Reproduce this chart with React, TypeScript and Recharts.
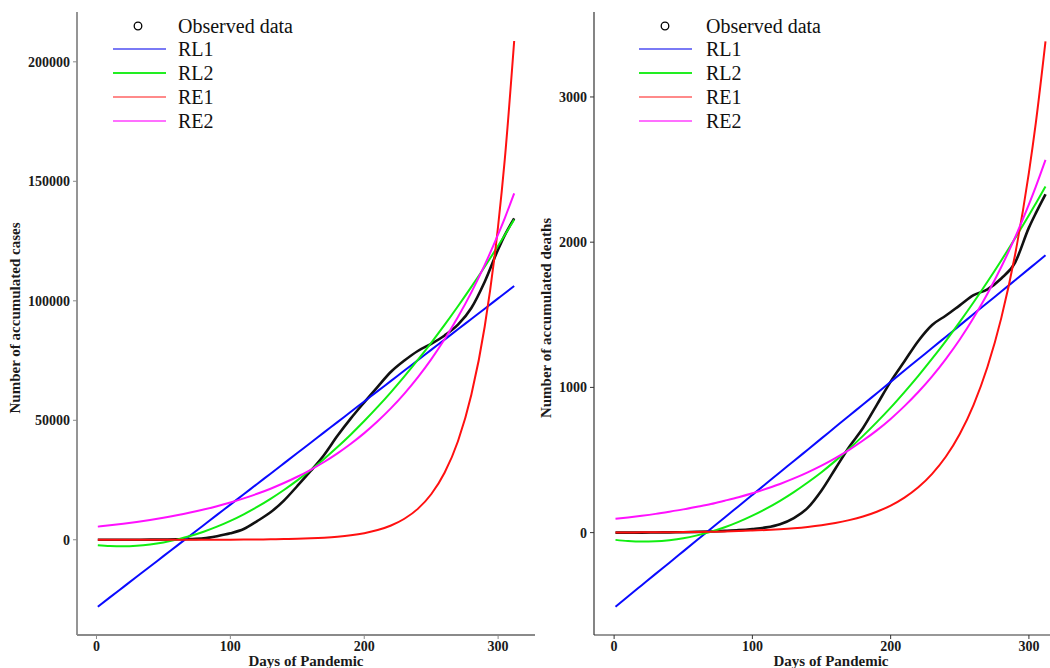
import React from 'react';
import { LineChart, Line, XAxis, YAxis } from 'recharts';

// Days of pandemic (sample points)
const days = [1, 10, 20, 30, 40, 50, 60, 70, 80, 90, 100, 110, 120, 130, 140, 150, 160, 170, 180, 190, 200, 210, 220, 230, 240, 250, 260, 270, 280, 290, 300, 305, 312];

// Left panel: accumulated cases
const casesObserved = [0, 0, 0, 0, 50, 100, 200, 300, 600, 1500, 2700, 4500, 7800, 11500, 16400, 22500, 28800, 35500, 43500, 50800, 57500, 64000, 70300, 75000, 79000, 82000, 85500, 90000, 97000, 108000, 121500, 127500, 134500];
const casesRL1 = [-28000, -24100, -19800, -15500, -11200, -6850, -2540, 1780, 6090, 10400, 14720, 19030, 23350, 27660, 31980, 36300, 40610, 44930, 49240, 53560, 57870, 62190, 66500, 70820, 75130, 79450, 83760, 88080, 92390, 96700, 101020, 103180, 106200];
const casesRL2 = [-2300, -2650, -2740, -2520, -1970, -1120, 60, 1550, 3360, 5480, 7920, 10670, 13740, 17130, 20830, 24850, 29180, 33830, 38800, 44080, 49680, 55590, 61820, 68370, 75230, 82410, 89900, 97710, 105840, 114280, 123040, 127530, 133960];
const casesRE1 = [1, 2, 3, 4, 6, 8, 12, 18, 27, 39, 58, 85, 126, 185, 272, 400, 589, 867, 1275, 1876, 2761, 4062, 5977, 8795, 12933, 19040, 28030, 41220, 60650, 89240, 131300, 159300, 208700];
const casesRE2 = [5500, 6050, 6720, 7460, 8290, 9210, 10230, 11370, 12630, 14030, 15580, 17310, 19230, 21370, 23740, 26370, 29300, 32550, 36160, 40170, 44620, 49570, 55070, 61180, 67970, 75510, 83890, 93190, 103530, 115020, 127770, 134640, 144950];

// Right panel: accumulated deaths
const deathsObserved = [0, 0, 0, 1, 2, 3, 5, 8, 12, 17, 25, 36, 58, 100, 170, 290, 440, 590, 720, 880, 1040, 1180, 1320, 1430, 1495, 1565, 1635, 1675, 1750, 1860, 2100, 2200, 2330];
const deathsRL1 = [-510, -440, -362, -284, -207, -129, -51, 27, 104, 182, 260, 338, 416, 493, 571, 649, 727, 805, 882, 960, 1038, 1116, 1194, 1271, 1349, 1427, 1505, 1583, 1660, 1738, 1816, 1855, 1910];
const deathsRL2 = [-50, -58, -62, -60, -52, -39, -19, 6, 37, 74, 117, 165, 219, 279, 345, 416, 494, 577, 666, 761, 861, 968, 1080, 1198, 1321, 1451, 1586, 1727, 1874, 2027, 2185, 2267, 2383];
const deathsRE1 = [1, 1.4, 1.8, 2.3, 3, 3.8, 5, 6.4, 8.3, 10.8, 14.3, 18.1, 23.5, 30.4, 39.4, 51, 66, 86, 111, 144, 186, 241, 312, 405, 524, 679, 880, 1140, 1477, 1913, 2479, 2821, 3382];
const deathsRE2 = [95, 104.5, 116, 129, 144, 160, 178, 197, 220, 244, 271, 302, 335, 373, 415, 461, 513, 570, 634, 704, 783, 871, 968, 1076, 1197, 1330, 1479, 1645, 1829, 2033, 2260, 2383, 2567];

// Axis ticks
const xTicks = [0, 100, 200, 300];
const casesTicks = [0, 50000, 100000, 150000, 200000];
const deathsTicks = [0, 1000, 2000, 3000];

const legendNames = ['Observed data', 'RL1', 'RL2', 'RE1', 'RE2'];
const lineColors = { rl1: '#0a0aff', rl2: '#11ee11', re1: '#ff1010', re2: '#ff10ff' };
const legendColors = ['#000', '#7a7af5', '#22ee22', '#ff8a8a', '#ff70ff'];

const FONT = '"Liberation Serif", "Times New Roman", serif';

function buildRows(obs: number[], rl1: number[], rl2: number[], re1: number[], re2: number[]) {
  return days.map((d, i) => ({ day: d, obs: obs[i], rl1: rl1[i], rl2: rl2[i], re1: re1[i], re2: re2[i] }));
}

const casesRows = buildRows(casesObserved, casesRL1, casesRL2, casesRE1, casesRE2);
const deathsRows = buildRows(deathsObserved, deathsRL1, deathsRL2, deathsRE1, deathsRE2);

const tickStyle = { fontSize: 14, fontWeight: 700, fill: '#1a1a1a', fontFamily: FONT };

function Panel(props: { rows: any[]; yDomain: [number, number]; yTicks: number[]; width: number; left: number; axisColor: string; axisWidth: number }) {
  const { rows, yDomain, yTicks, width, left, axisColor, axisWidth } = props;
  return (
    <div style={{ position: 'absolute', left, top: 0 }}>
      <LineChart width={width} height={668} data={rows} margin={{ top: 12, right: 10, bottom: 0, left: 17 }}>
        <XAxis
          type="number"
          dataKey="day"
          domain={[-14.55, 327.55]}
          ticks={xTicks}
          allowDataOverflow
          height={33}
          tickSize={4}
          tickMargin={2}
          axisLine={{ stroke: axisColor, strokeWidth: axisWidth }}
          tickLine={{ stroke: axisColor }}
          tick={tickStyle}
        />
        <YAxis
          type="number"
          domain={yDomain}
          ticks={yTicks}
          allowDataOverflow
          width={60}
          tickSize={4}
          tickMargin={3}
          axisLine={{ stroke: axisColor, strokeWidth: axisWidth }}
          tickLine={{ stroke: axisColor }}
          tick={tickStyle}
        />
        <Line type="monotone" dataKey="obs" stroke="#111" strokeWidth={2.6} dot={false} activeDot={false} isAnimationActive={false} />
        <Line type="monotone" dataKey="rl1" stroke={lineColors.rl1} strokeWidth={2} dot={false} activeDot={false} isAnimationActive={false} />
        <Line type="monotone" dataKey="rl2" stroke={lineColors.rl2} strokeWidth={2} dot={false} activeDot={false} isAnimationActive={false} />
        <Line type="monotone" dataKey="re1" stroke={lineColors.re1} strokeWidth={2} dot={false} activeDot={false} isAnimationActive={false} />
        <Line type="monotone" dataKey="re2" stroke={lineColors.re2} strokeWidth={2} dot={false} activeDot={false} isAnimationActive={false} />
      </LineChart>
    </div>
  );
}

const serifStyle = { fontFamily: FONT };

function LegendBlock({ circleX, lineX1, lineX2, textX }: { circleX: number; lineX1: number; lineX2: number; textX: number }) {
  const rows = [26, 49, 73, 97, 121];
  return (
    <g>
      {legendNames.map((name, i) => (
        <g key={name}>
          {i === 0 ? (
            <circle cx={circleX} cy={rows[i]} r={3.8} fill="none" stroke="#000" strokeWidth={1.3} />
          ) : (
            <line x1={lineX1} x2={lineX2} y1={rows[i]} y2={rows[i]} stroke={legendColors[i]} strokeWidth={2.2} />
          )}
          <text x={textX} y={rows[i] + 7} fontSize={20} style={serifStyle} fill="#111">{name}</text>
        </g>
      ))}
    </g>
  );
}

const titleStyle = { fontFamily: FONT, fontSize: 15, fontWeight: 700 };

export default function App() {
  return (
    <div style={{ position: 'fixed', left: 0, top: 0, width: 1050, height: 668, overflow: 'hidden', background: '#fff', fontFamily: FONT }}>
      <Panel rows={casesRows} yDomain={[-39850, 220850]} yTicks={casesTicks} width={545} left={0} axisColor="#8a8a8a" axisWidth={1.8} />
      <Panel rows={deathsRows} yDomain={[-705, 3585]} yTicks={deathsTicks} width={560} left={517} axisColor="#333" axisWidth={1.2} />
      <svg width={1050} height={668} style={{ position: 'absolute', left: 0, top: 0, pointerEvents: 'none' }}>
        <LegendBlock circleX={138} lineX1={113} lineX2={166} textX={178} />
        <LegendBlock circleX={665} lineX1={639} lineX2={692} textX={706} />
        <text x={306} y={666} textAnchor="middle" style={titleStyle} fill="#1a1a1a">Days of Pandemic</text>
        <text x={831} y={666} textAnchor="middle" style={titleStyle} fill="#1a1a1a">Days of Pandemic</text>
        <text x={20} y={318} transform="rotate(-90 20 318)" textAnchor="middle" style={titleStyle} fill="#1a1a1a">Number of accumulated cases</text>
        <text x={551} y={318} transform="rotate(-90 551 318)" textAnchor="middle" style={titleStyle} fill="#1a1a1a">Number of accumulated deaths</text>
      </svg>
    </div>
  );
}
